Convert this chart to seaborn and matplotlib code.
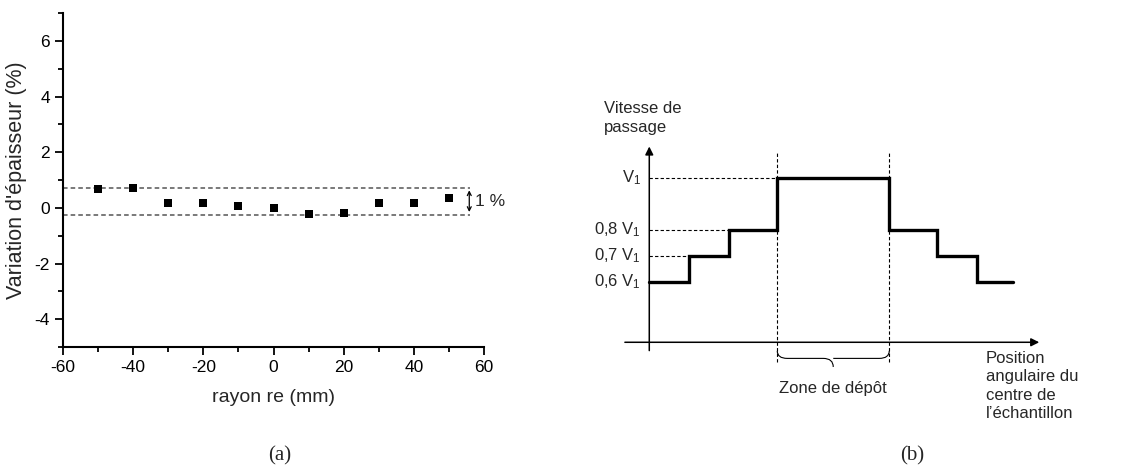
import numpy as np
import pandas as pd
import matplotlib
matplotlib.use("Agg")
import matplotlib.pyplot as plt
from matplotlib.path import Path
from matplotlib.patches import PathPatch
from matplotlib.ticker import MultipleLocator
import seaborn as sns

# ---------------- data ----------------
rayon = [-50, -40, -30, -20, -10, 0, 10, 20, 30, 40, 50]
variation = [0.67, 0.71, 0.17, 0.17, 0.05, -0.01, -0.23, -0.19, 0.17, 0.17, 0.35]
band_upper = 0.73
band_lower = -0.25

step_edges = [0, 1, 2, 3.2, 6.0, 7.2, 8.2, 9.1]
step_levels = [0.6, 0.7, 0.8, 1.0, 0.8, 0.7, 0.6]
level_labels = ["0,6 V$_1$", "0,7 V$_1$", "0,8 V$_1$", "V$_1$"]
level_values = [0.6, 0.7, 0.8, 1.0]

sns.set_theme(style="ticks")
plt.rcParams["font.family"] = ["Liberation Sans", "DejaVu Sans"]
plt.rcParams["mathtext.fontset"] = "custom"
plt.rcParams["mathtext.rm"] = "Liberation Sans"
plt.rcParams["mathtext.it"] = "Liberation Sans"
plt.rcParams["axes.unicode_minus"] = False

fig = plt.figure(figsize=(11.36, 4.75), dpi=100)

# ---------------- panel (a) ----------------
ax = fig.add_axes([63 / 1136, 1 - 347 / 475, (484 - 63) / 1136, (347 - 13) / 475])
df = pd.DataFrame({"rayon": rayon, "variation": variation})
sns.scatterplot(data=df, x="rayon", y="variation", marker="s", color="black",
                s=30, linewidth=0, ax=ax, zorder=3)
ax.set_xlim(-60, 60)
ax.set_ylim(-5, 7)
ax.xaxis.set_major_locator(MultipleLocator(20))
ax.xaxis.set_minor_locator(MultipleLocator(10))
ax.yaxis.set_major_locator(MultipleLocator(2))
ax.yaxis.set_minor_locator(MultipleLocator(1))
ax.set_yticks([-4, -2, 0, 2, 4, 6])
ax.tick_params(which="major", direction="out", length=6, width=1.3, labelsize=12.5, color="black", labelcolor="black")
ax.tick_params(which="minor", direction="out", length=3.5, width=1.3, color="black")
for s in ["top", "right"]:
    ax.spines[s].set_visible(False)
for s in ["left", "bottom"]:
    ax.spines[s].set_linewidth(1.5)
    ax.spines[s].set_color("black")
ax.set_xlabel("rayon re (mm)", fontsize=14, labelpad=10)
ax.set_ylabel("Variation d'épaisseur (%)", fontsize=15.5, labelpad=5)

ax.plot([-60, 56], [band_upper, band_upper], ls=(0, (3, 2)), color="#555555", lw=1.1, clip_on=False)
ax.plot([-60, 56], [band_lower, band_lower], ls=(0, (3, 2)), color="#555555", lw=1.1, clip_on=False)
ax.annotate("", xy=(55.8, band_upper), xytext=(55.8, band_lower),
            arrowprops=dict(arrowstyle="<->", lw=0.9, color="black", mutation_scale=7),
            annotation_clip=False)
ax.text(57.3, (band_upper + band_lower) / 2, "1 %", fontsize=12.5, va="center", ha="left")

fig.text(280 / 1136, 1 - 456 / 475, "(a)", family="Liberation Serif", fontsize=15,
         ha="center", va="center")

# ---------------- panel (b) ----------------
ax2 = fig.add_axes([560 / 1136, 0, 576 / 1136, 1])
ax2.set_xlim(-2.2325, 12.17)
ax2.set_ylim(-0.1435, 1.6835)
ax2.axis("off")

xs = list(step_edges)
ys = list(step_levels) + [step_levels[-1]]
ax2.step(xs, ys, where="post", color="black", lw=2.4, solid_joinstyle="miter")

# axes arrows
ax2.annotate("", xy=(0, 1.12), xytext=(0, 0.335),
             arrowprops=dict(arrowstyle="-|>", lw=1.1, color="black", mutation_scale=12, shrinkA=0, shrinkB=0))
ax2.annotate("", xy=(9.75, 0.367), xytext=(-0.61, 0.367),
             arrowprops=dict(arrowstyle="-|>", lw=1.1, color="black", mutation_scale=12, shrinkA=0, shrinkB=0))

# level dashed guides and labels
guide_ends = {0.7: 1.0, 0.8: 2.0, 1.0: 3.2}
for v, lab in zip(level_values, level_labels):
    if v in guide_ends:
        ax2.plot([0, guide_ends[v]], [v, v], ls=(0, (3, 2)), color="black", lw=0.8)
    ax2.text(-0.2, v, lab, ha="right", va="center", fontsize=12)

# zone verticals
for xv in [3.2, 6.0]:
    ax2.plot([xv, xv], [0.29, 1.10], ls=(0, (3, 2)), color="black", lw=0.8)

# brace
x0, x1 = 3.2, 6.0
xm = (x0 + x1) / 2
yt, ym, yb = 0.334, 0.305, 0.272
r = 0.25
verts = [(x0, yt), (x0, ym), (x0 + r, ym), (xm - r, ym), (xm, ym), (xm, yb),
         (xm, ym), (xm + r, ym), (x1 - r, ym), (x1, ym), (x1, yt)]
codes = [Path.MOVETO, Path.CURVE3, Path.CURVE3, Path.LINETO, Path.CURVE3, Path.CURVE3,
         Path.MOVETO, Path.CURVE3, Path.LINETO, Path.CURVE3, Path.CURVE3]
ax2.add_patch(PathPatch(Path(verts, codes), fill=False, lw=0.8, color="black"))
ax2.text(xm, 0.19, "Zone de dépôt", ha="center", va="center", fontsize=12)

ax2.text(-1.13, 1.295, "Vitesse de\npassage", ha="left", va="top", fontsize=12, linespacing=1.3)
ax2.text(8.42, 0.335, "Position\nangulaire du\ncentre de\nl\u2019échantillon", ha="left", va="top",
         fontsize=12, linespacing=1.3)

fig.text(912 / 1136, 1 - 456 / 475, "(b)", family="Liberation Serif", fontsize=15,
         ha="center", va="center")

fig.savefig("out.png", dpi=100)
